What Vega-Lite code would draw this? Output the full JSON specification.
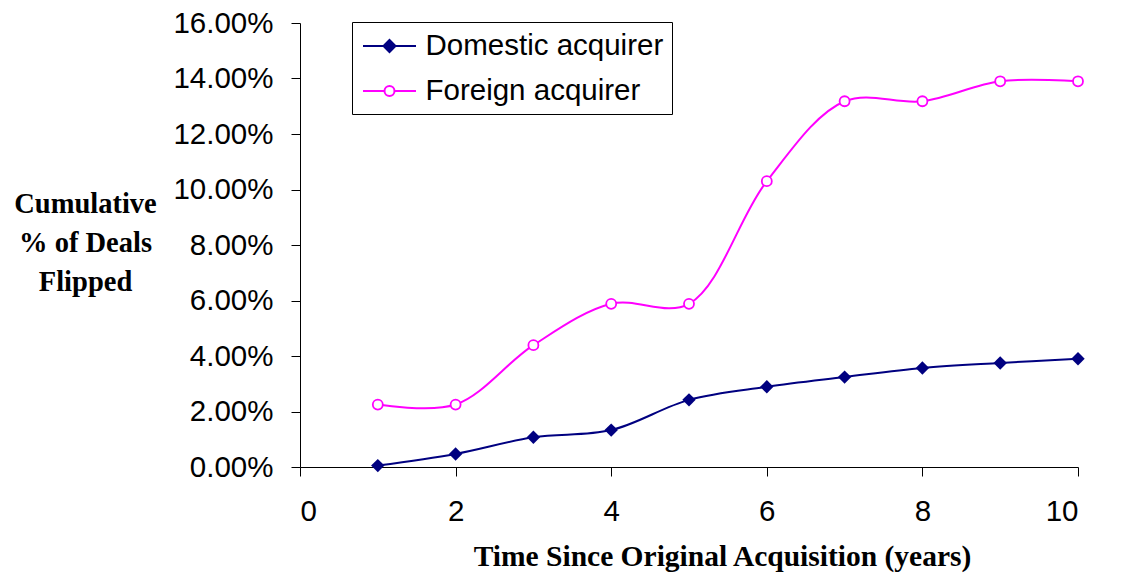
{
  "$schema": "https://vega.github.io/schema/vega-lite/v6.json",
  "width": 778,
  "height": 444,
  "autosize": {"type": "none"},
  "padding": {"left": 300, "top": 23, "right": 50, "bottom": 118},
  "background": "white",
  "config": {
    "view": {"stroke": null},
    "axis": {
      "domainColor": "black",
      "tickColor": "black",
      "tickSize": 9,
      "grid": false,
      "labelFont": "Liberation Sans",
      "labelFontSize": 29.5,
      "labelColor": "black",
      "titleFont": "Liberation Serif",
      "titleFontWeight": "bold",
      "titleColor": "black"
    }
  },
  "data": {
    "values": [
      {"year": 1, "pct": 0.0005, "series": "Domestic acquirer"},
      {"year": 2, "pct": 0.0047, "series": "Domestic acquirer"},
      {"year": 3, "pct": 0.0107, "series": "Domestic acquirer"},
      {"year": 4, "pct": 0.0133, "series": "Domestic acquirer"},
      {"year": 5, "pct": 0.0242, "series": "Domestic acquirer"},
      {"year": 6, "pct": 0.0289, "series": "Domestic acquirer"},
      {"year": 7, "pct": 0.0324, "series": "Domestic acquirer"},
      {"year": 8, "pct": 0.0357, "series": "Domestic acquirer"},
      {"year": 9, "pct": 0.0375, "series": "Domestic acquirer"},
      {"year": 10, "pct": 0.0390, "series": "Domestic acquirer"},
      {"year": 1, "pct": 0.0225, "series": "Foreign acquirer"},
      {"year": 2, "pct": 0.0225, "series": "Foreign acquirer"},
      {"year": 3, "pct": 0.0439, "series": "Foreign acquirer"},
      {"year": 4, "pct": 0.0588, "series": "Foreign acquirer"},
      {"year": 5, "pct": 0.0588, "series": "Foreign acquirer"},
      {"year": 6, "pct": 0.1030, "series": "Foreign acquirer"},
      {"year": 7, "pct": 0.1318, "series": "Foreign acquirer"},
      {"year": 8, "pct": 0.1318, "series": "Foreign acquirer"},
      {"year": 9, "pct": 0.1390, "series": "Foreign acquirer"},
      {"year": 10, "pct": 0.1390, "series": "Foreign acquirer"}
    ]
  },
  "encoding": {
    "x": {
      "field": "year",
      "type": "quantitative",
      "scale": {"domain": [0, 10], "nice": false, "zero": false},
      "axis": {
        "values": [0, 2, 4, 6, 8, 10],
        "labelPadding": 21,
        "title": "Time Since Original Acquisition (years)",
        "titleFontSize": 29.5,
        "titleX": 422,
        "titleY": 98,
        "titleAnchor": "middle",
        "titleAlign": "center",
        "titleBaseline": "alphabetic"
      }
    },
    "y": {
      "field": "pct",
      "type": "quantitative",
      "scale": {"domain": [0, 0.16], "nice": false},
      "axis": {
        "values": [0, 0.02, 0.04, 0.06, 0.08, 0.1, 0.12, 0.14, 0.16],
        "format": ".2%",
        "labelPadding": 18,
        "title": ["Cumulative", "% of Deals", "Flipped"],
        "titleFontSize": 28.5,
        "titleAngle": 0,
        "titleAlign": "center",
        "titleBaseline": "alphabetic",
        "titleLineHeight": 39,
        "titleX": -215,
        "titleY": 189
      }
    }
  },
  "layer": [
    {
      "mark": {"type": "line", "interpolate": "catmull-rom", "strokeWidth": 2},
      "encoding": {
        "stroke": {
          "field": "series",
          "type": "nominal",
          "scale": {"domain": ["Domestic acquirer", "Foreign acquirer"], "range": ["#000080", "#FF00FF"]},
          "legend": {
            "orient": "none",
            "legendX": 52,
            "legendY": -1,
            "title": null,
            "padding": 8,
            "strokeColor": "black",
            "fillColor": "white",
            "symbolSize": 900,
            "symbolOffset": 13.5,
            "symbolStrokeWidth": 2,
            "labelFont": "Liberation Sans",
            "labelFontSize": 29.5,
            "labelColor": "black",
            "labelOffset": 20,
            "labelLimit": 0,
            "rowPadding": 14,
            "encode": {
              "symbols": {
                "update": {
                  "shape": {"signal": "datum.value === 'Domestic acquirer' ? 'M-1.767,0L1.767,0M0,-0.4L0.4,0L0,0.4L-0.4,0Z' : 'M-1.767,0L-0.333,0M0.333,0L1.767,0M0.333,0A0.333,0.333,0,1,1,-0.333,0A0.333,0.333,0,1,1,0.333,0Z'"},
                  "fill": {"signal": "datum.value === 'Domestic acquirer' ? '#000080' : 'white'"},
                  "strokeWidth": {"value": 2}
                }
              }
            }
          }
        }
      }
    },
    {
      "transform": [{"filter": "datum.series === 'Domestic acquirer'"}],
      "mark": {"type": "point", "shape": "diamond", "filled": true, "color": "#000080", "size": 180, "opacity": 1}
    },
    {
      "transform": [{"filter": "datum.series === 'Foreign acquirer'"}],
      "mark": {"type": "point", "shape": "circle", "filled": false, "fill": "white", "stroke": "#FF00FF", "strokeWidth": 1.8, "size": 100, "opacity": 1}
    }
  ]
}
